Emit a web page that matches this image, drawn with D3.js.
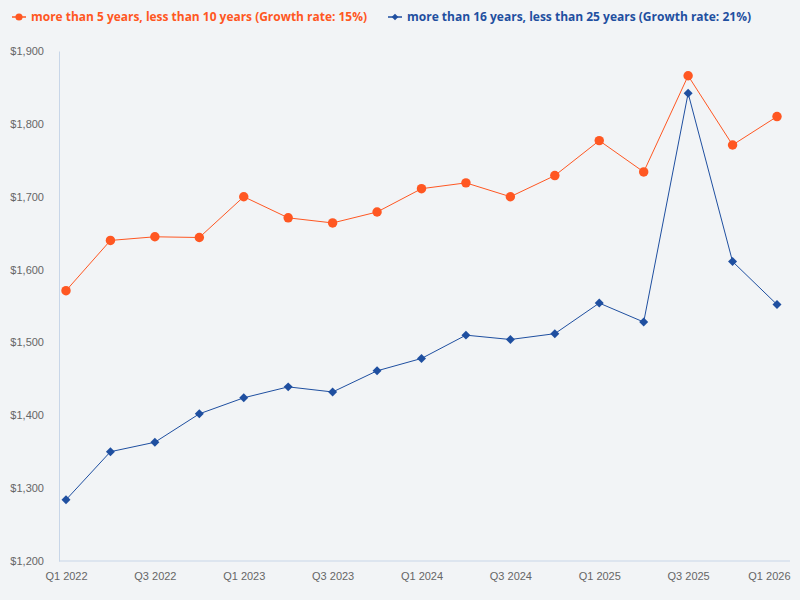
<!DOCTYPE html>
<html>
<head>
<meta charset="utf-8">
<script src="https://cdn.jsdelivr.net/npm/d3@7"></script>
<style>
  body { margin: 0; background: #f2f4f6; }
  svg { display: block; font-family: "Open Sans", sans-serif; }
</style>
</head>
<body>
<svg id="chart" width="800" height="600"></svg>
<script>
var quarters = ['Q1 2022', 'Q2 2022', 'Q3 2022', 'Q4 2022', 'Q1 2023', 'Q2 2023', 'Q3 2023', 'Q4 2023',
  'Q1 2024', 'Q2 2024', 'Q3 2024', 'Q4 2024', 'Q1 2025', 'Q2 2025', 'Q3 2025', 'Q4 2025', 'Q1 2026'];
var fiveToTen = [1571, 1640, 1645, 1644, 1700, 1671, 1664, 1679, 1711, 1719, 1700, 1729, 1777, 1734, 1866, 1771, 1810];
var sixteenToTwentyFive = [1284, 1350, 1363, 1402, 1424, 1439, 1432, 1461, 1478, 1510, 1504, 1512, 1554, 1528, 1842, 1611, 1552];
var yTicks = [1200, 1300, 1400, 1500, 1600, 1700, 1800, 1900];
var xTickLabels = ['Q1 2022', 'Q3 2022', 'Q1 2023', 'Q3 2023', 'Q1 2024', 'Q3 2024', 'Q1 2025', 'Q3 2025', 'Q1 2026'];

var series = [
  { name: 'more than 5 years, less than 10 years (Growth rate: 15%)', values: fiveToTen, color: '#ff5722', shape: 'circle' },
  { name: 'more than 16 years, less than 25 years (Growth rate: 21%)', values: sixteenToTwentyFive, color: '#1f4fa0', shape: 'diamond' }
];

var svg = d3.select('#chart');

var x = d3.scalePoint().domain(quarters).range([66, 777]);
var y = d3.scaleLinear().domain([1200, 1900]).range([561, 51]);

// axes
var yAxis = svg.append('g')
  .attr('transform', 'translate(59,0)')
  .call(d3.axisLeft(y).tickValues(yTicks).tickSize(0).tickPadding(15).tickFormat(function(d) { return '$' + d3.format(',')(d); }));
yAxis.select('.domain').attr('stroke', '#c8d6e8');
yAxis.selectAll('text').attr('fill', '#666').style('font-size', '11px');

var xAxis = svg.append('g')
  .attr('transform', 'translate(0,561)')
  .call(d3.axisBottom(x).tickValues(xTickLabels).tickSize(0).tickPadding(11));
xAxis.select('.domain').attr('d', 'M59,0H790').attr('stroke', '#c8d6e8');
xAxis.selectAll('text').attr('fill', '#666').style('font-size', '11px');
// keep the last label inside the plot, like the original
xAxis.selectAll('text').filter(function(d) { return d == 'Q1 2026'; })
  .attr('text-anchor', 'end').attr('x', 13);

var line = d3.line()
  .x(function(d, i) { return x(quarters[i]); })
  .y(function(d) { return y(d); });

var circleSym = d3.symbol().type(d3.symbolCircle).size(70);
var diamondSym = d3.symbol().type(d3.symbolSquare).size(40);

series.forEach(function(s) {
  svg.append('path')
    .datum(s.values)
    .attr('fill', 'none')
    .attr('stroke', s.color)
    .attr('stroke-width', 1)
    .attr('d', line);

  svg.selectAll(null)
    .data(s.values)
    .enter().append('path')
    .attr('transform', function(d, i) {
      return 'translate(' + x(quarters[i]) + ',' + y(d) + ')' + (s.shape == 'diamond' ? ' rotate(45)' : '');
    })
    .attr('d', s.shape == 'circle' ? circleSym : diamondSym)
    .attr('fill', s.color);
});

// legend
var legendX = [12, 388];
series.forEach(function(s, i) {
  var g = svg.append('g').attr('transform', 'translate(' + legendX[i] + ',17)');
  g.append('line').attr('x1', 0).attr('x2', 14).attr('stroke', s.color).attr('stroke-width', 1.5);
  g.append('path')
    .attr('transform', 'translate(7,0)' + (s.shape == 'diamond' ? ' rotate(45)' : ''))
    .attr('d', s.shape == 'circle' ? d3.symbol().type(d3.symbolCircle).size(40) : d3.symbol().type(d3.symbolSquare).size(22))
    .attr('fill', s.color);
  g.append('text')
    .attr('x', 19)
    .attr('dy', '0.35em')
    .attr('fill', s.color)
    .style('font-size', '12px')
    .style('font-weight', 'bold')
    .attr('textLength', i == 0 ? 336 : 344)
    .attr('lengthAdjust', 'spacingAndGlyphs')
    .text(s.name);
});
</script>
</body>
</html>
